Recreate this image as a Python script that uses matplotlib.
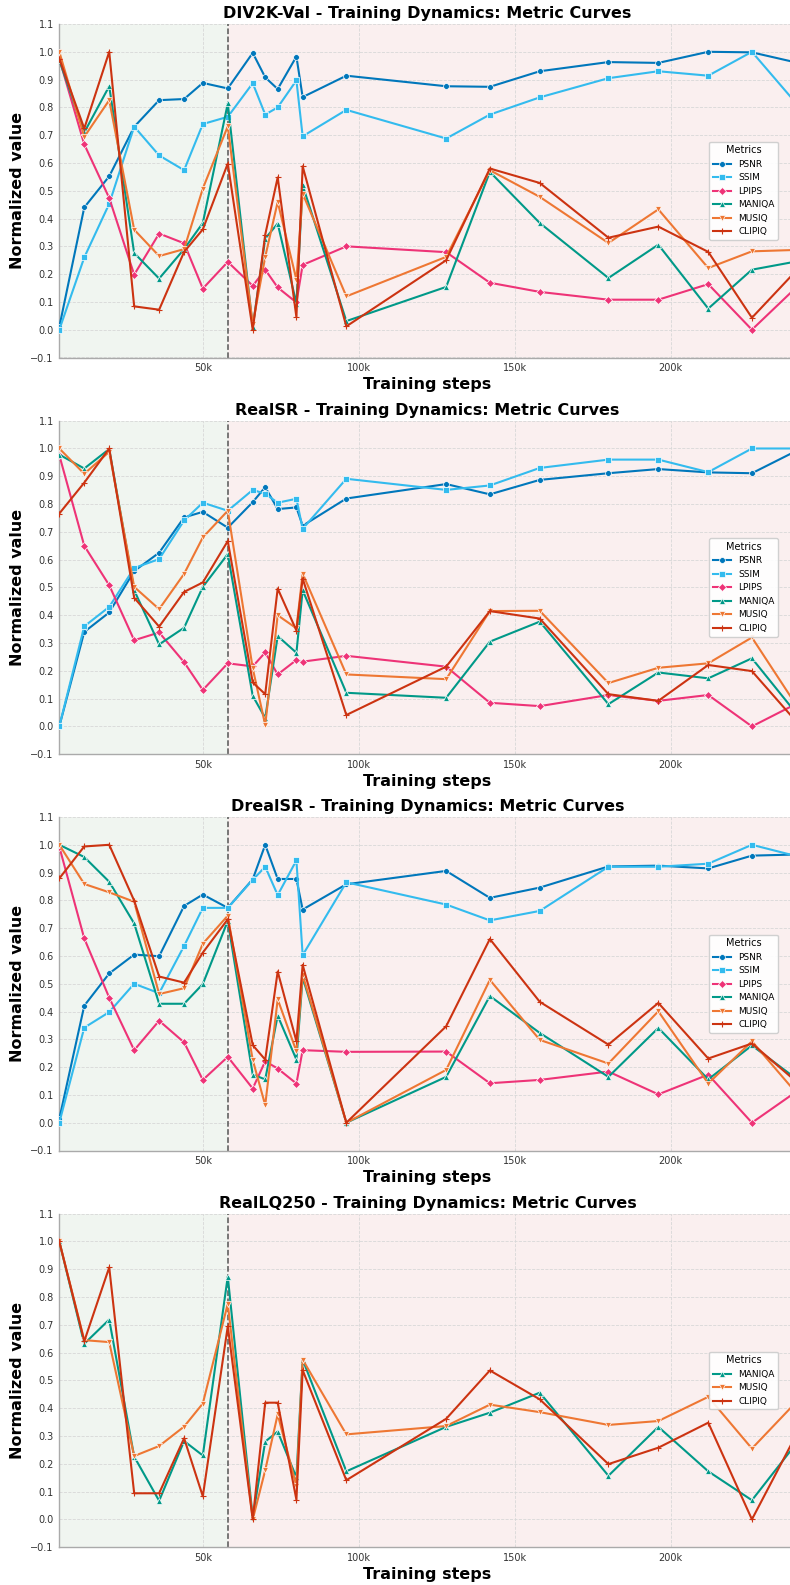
import matplotlib
matplotlib.use("Agg")
import matplotlib.pyplot as plt
from matplotlib.ticker import FuncFormatter, MultipleLocator

# checkpoint steps
steps = [4000, 12000, 20000, 28000, 36000, 44000, 50000, 58000, 66000, 70000, 74000,
         80000, 82000, 96000, 128000, 142000, 158000, 180000, 196000, 212000, 226000, 240000]
switch_step = 58000

div2k_psnr = [0.01, 0.44, 0.552, 0.73, 0.826, 0.83, 0.888, 0.868, 0.996, 0.908, 0.866,
              0.983, 0.837, 0.914, 0.876, 0.874, 0.93, 0.963, 0.96, 1.0, 0.998, 0.962]
div2k_ssim = [0.0, 0.26, 0.453, 0.731, 0.627, 0.574, 0.74, 0.766, 0.887, 0.774, 0.80,
              0.897, 0.696, 0.791, 0.688, 0.774, 0.836, 0.905, 0.93, 0.914, 1.0, 0.817]
div2k_lpips = [0.975, 0.667, 0.474, 0.198, 0.346, 0.311, 0.148, 0.244, 0.158, 0.216, 0.152,
               0.098, 0.233, 0.30, 0.279, 0.169, 0.136, 0.108, 0.108, 0.164, 0.0, 0.15]
div2k_maniqa = [0.97, 0.71, 0.876, 0.276, 0.184, 0.29, 0.384, 0.814, 0.01, 0.328, 0.382,
                0.094, 0.52, 0.031, 0.154, 0.568, 0.384, 0.186, 0.306, 0.076, 0.216, 0.245]
div2k_musiq = [1.0, 0.694, 0.826, 0.36, 0.265, 0.29, 0.508, 0.732, 0.02, 0.262, 0.46,
               0.18, 0.49, 0.12, 0.262, 0.574, 0.478, 0.312, 0.433, 0.222, 0.282, 0.287]
div2k_clipiq = [0.975, 0.724, 1.0, 0.084, 0.072, 0.28, 0.361, 0.598, 0.0, 0.342, 0.548,
                0.045, 0.588, 0.012, 0.25, 0.58, 0.528, 0.331, 0.371, 0.28, 0.043, 0.21]

realsr_psnr = [0.0, 0.34, 0.41, 0.559, 0.625, 0.752, 0.772, 0.715, 0.807, 0.861, 0.782,
               0.788, 0.722, 0.82, 0.872, 0.835, 0.887, 0.911, 0.926, 0.914, 0.911, 0.99]
realsr_ssim = [0.0, 0.36, 0.43, 0.57, 0.602, 0.741, 0.805, 0.776, 0.851, 0.837, 0.805,
               0.819, 0.711, 0.891, 0.851, 0.867, 0.93, 0.96, 0.96, 0.915, 1.0, 1.0]
realsr_lpips = [0.976, 0.65, 0.508, 0.31, 0.338, 0.231, 0.131, 0.227, 0.216, 0.266, 0.187,
                0.239, 0.233, 0.254, 0.215, 0.085, 0.073, 0.113, 0.092, 0.113, 0.0, 0.08]
realsr_maniqa = [0.978, 0.928, 0.998, 0.49, 0.295, 0.355, 0.502, 0.62, 0.11, 0.03, 0.325,
                 0.265, 0.49, 0.121, 0.103, 0.305, 0.377, 0.08, 0.194, 0.173, 0.245, 0.05]
realsr_musiq = [1.0, 0.909, 0.988, 0.502, 0.422, 0.549, 0.68, 0.776, 0.209, 0.005, 0.40,
                0.353, 0.55, 0.187, 0.17, 0.415, 0.416, 0.156, 0.211, 0.227, 0.32, 0.08]
realsr_clipiq = [0.766, 0.877, 1.0, 0.463, 0.359, 0.484, 0.518, 0.667, 0.158, 0.116, 0.496,
                 0.345, 0.532, 0.041, 0.215, 0.415, 0.388, 0.116, 0.092, 0.221, 0.199, 0.02]

drealsr_psnr = [0.014, 0.421, 0.537, 0.605, 0.599, 0.78, 0.821, 0.773, 0.876, 1.0, 0.877,
                0.877, 0.767, 0.858, 0.906, 0.809, 0.846, 0.922, 0.925, 0.915, 0.961, 0.965]
drealsr_ssim = [0.0, 0.342, 0.398, 0.5, 0.466, 0.636, 0.773, 0.773, 0.874, 0.921, 0.819,
                0.944, 0.603, 0.865, 0.785, 0.728, 0.762, 0.921, 0.921, 0.932, 1.0, 0.96]
drealsr_lpips = [0.993, 0.663, 0.45, 0.261, 0.367, 0.289, 0.154, 0.237, 0.123, 0.221, 0.195,
                 0.141, 0.261, 0.255, 0.256, 0.142, 0.154, 0.184, 0.102, 0.173, 0.0, 0.11]
drealsr_maniqa = [1.0, 0.956, 0.867, 0.717, 0.428, 0.428, 0.499, 0.726, 0.173, 0.156, 0.385,
                  0.227, 0.523, 0.0, 0.165, 0.456, 0.323, 0.165, 0.341, 0.156, 0.278, 0.16]
drealsr_musiq = [1.0, 0.859, 0.829, 0.795, 0.463, 0.484, 0.644, 0.745, 0.226, 0.063, 0.444,
                 0.257, 0.532, 0.0, 0.19, 0.514, 0.298, 0.213, 0.401, 0.141, 0.293, 0.11]
drealsr_clipiq = [0.879, 0.994, 1.0, 0.799, 0.526, 0.504, 0.612, 0.732, 0.279, 0.227, 0.544,
                  0.293, 0.568, 0.0, 0.347, 0.661, 0.435, 0.281, 0.431, 0.231, 0.285, 0.15]

reallq_maniqa = [1.0, 0.632, 0.719, 0.226, 0.067, 0.282, 0.23, 0.874, 0.007, 0.28, 0.316,
                 0.151, 0.575, 0.173, 0.333, 0.384, 0.456, 0.157, 0.333, 0.173, 0.069, 0.27]
reallq_musiq = [1.0, 0.645, 0.638, 0.228, 0.264, 0.334, 0.417, 0.776, 0.0, 0.177, 0.378,
                0.12, 0.575, 0.306, 0.336, 0.413, 0.386, 0.34, 0.354, 0.441, 0.255, 0.42]
reallq_clipiq = [1.0, 0.641, 0.907, 0.094, 0.094, 0.292, 0.083, 0.695, 0.0, 0.42, 0.42,
                 0.071, 0.537, 0.141, 0.362, 0.536, 0.432, 0.199, 0.258, 0.348, 0.0, 0.3]

STYLE = {
    "PSNR": ("#0077BB", "o", 4.2),
    "SSIM": ("#33BBEE", "s", 4.2),
    "LPIPS": ("#EE3377", "D", 4.0),
    "MANIQA": ("#009988", "^", 4.2),
    "MUSIQ": ("#EE7733", "v", 4.2),
    "CLIPIQ": ("#CC3311", "+", 4.5),
}

panels = [
    ("DIV2K-Val", {"PSNR": div2k_psnr, "SSIM": div2k_ssim, "LPIPS": div2k_lpips,
                   "MANIQA": div2k_maniqa, "MUSIQ": div2k_musiq, "CLIPIQ": div2k_clipiq}),
    ("RealSR", {"PSNR": realsr_psnr, "SSIM": realsr_ssim, "LPIPS": realsr_lpips,
                "MANIQA": realsr_maniqa, "MUSIQ": realsr_musiq, "CLIPIQ": realsr_clipiq}),
    ("DrealSR", {"PSNR": drealsr_psnr, "SSIM": drealsr_ssim, "LPIPS": drealsr_lpips,
                 "MANIQA": drealsr_maniqa, "MUSIQ": drealsr_musiq, "CLIPIQ": drealsr_clipiq}),
    ("RealLQ250", {"MANIQA": reallq_maniqa, "MUSIQ": reallq_musiq, "CLIPIQ": reallq_clipiq}),
]

W, H = 790, 1585
fig = plt.figure(figsize=(W / 100, H / 100), dpi=100)
tops = [24, 420.7, 817, 1213.7]
ax_h = 333.5
left_px, right_px = 59.3, 795.6


def kfmt(v, _):
    return f"{int(round(v / 1000))}k"


for (name, series), top in zip(panels, tops):
    ax = fig.add_axes([left_px / W, 1 - (top + ax_h) / H,
                       (right_px - left_px) / W, ax_h / H])
    ax.set_facecolor("white")
    ax.axvspan(steps[0], switch_step, color="#2E7D32", alpha=0.07, lw=0, zorder=0)
    ax.axvspan(switch_step, steps[-1], color="#C62828", alpha=0.07, lw=0, zorder=0)
    ax.axvline(switch_step, color="#555555", ls="--", lw=1.1, zorder=1)

    for metric, vals in series.items():
        color, marker, ms = STYLE[metric]
        if marker == "+":
            ax.plot(steps, vals, color=color, lw=1.5, marker=marker, ms=ms,
                    mew=0.8, label=metric, zorder=3)
        else:
            ax.plot(steps, vals, color=color, lw=1.5, marker=marker, ms=ms,
                    mec="white", mew=0.5, label=metric, zorder=3)

    ax.set_xlim(steps[0], steps[-1])
    ax.set_ylim(-0.1, 1.1)
    ax.yaxis.set_major_locator(MultipleLocator(0.1))
    ax.set_xticks([50000, 100000, 150000, 200000])
    ax.xaxis.set_major_formatter(FuncFormatter(kfmt))
    ax.yaxis.set_major_formatter(FuncFormatter(lambda v, _: f"{v:.1f}".replace("-", "\u2212")))
    ax.grid(True, ls="--", lw=0.6, color="#d8d8d8", zorder=0)
    ax.set_axisbelow(True)
    for s in ("top", "right"):
        ax.spines[s].set_visible(False)
    for s in ("left", "bottom"):
        ax.spines[s].set_color("#aaaaaa")
        ax.spines[s].set_linewidth(1.0)
    ax.tick_params(length=0, labelsize=7, colors="#333333", pad=4)

    ax.set_title(f"{name} - Training Dynamics: Metric Curves", fontsize=11.5,
                 fontweight="bold", pad=4)
    ax.set_xlabel("Training steps", fontsize=11.5, fontweight="bold", labelpad=3)
    ax.set_ylabel("Normalized value", fontsize=11.5, fontweight="bold")
    ax.yaxis.set_label_coords(-0.047, 0.5)

    leg = ax.legend(title="Metrics", loc="center right", bbox_to_anchor=(0.9825, 0.5),
                    fontsize=6.5, title_fontsize=7, frameon=True, fancybox=True,
                    borderaxespad=0.5)
    leg.get_frame().set_edgecolor("#cccccc")
    leg.get_frame().set_alpha(0.9)

fig.savefig("out.png", dpi=100)
